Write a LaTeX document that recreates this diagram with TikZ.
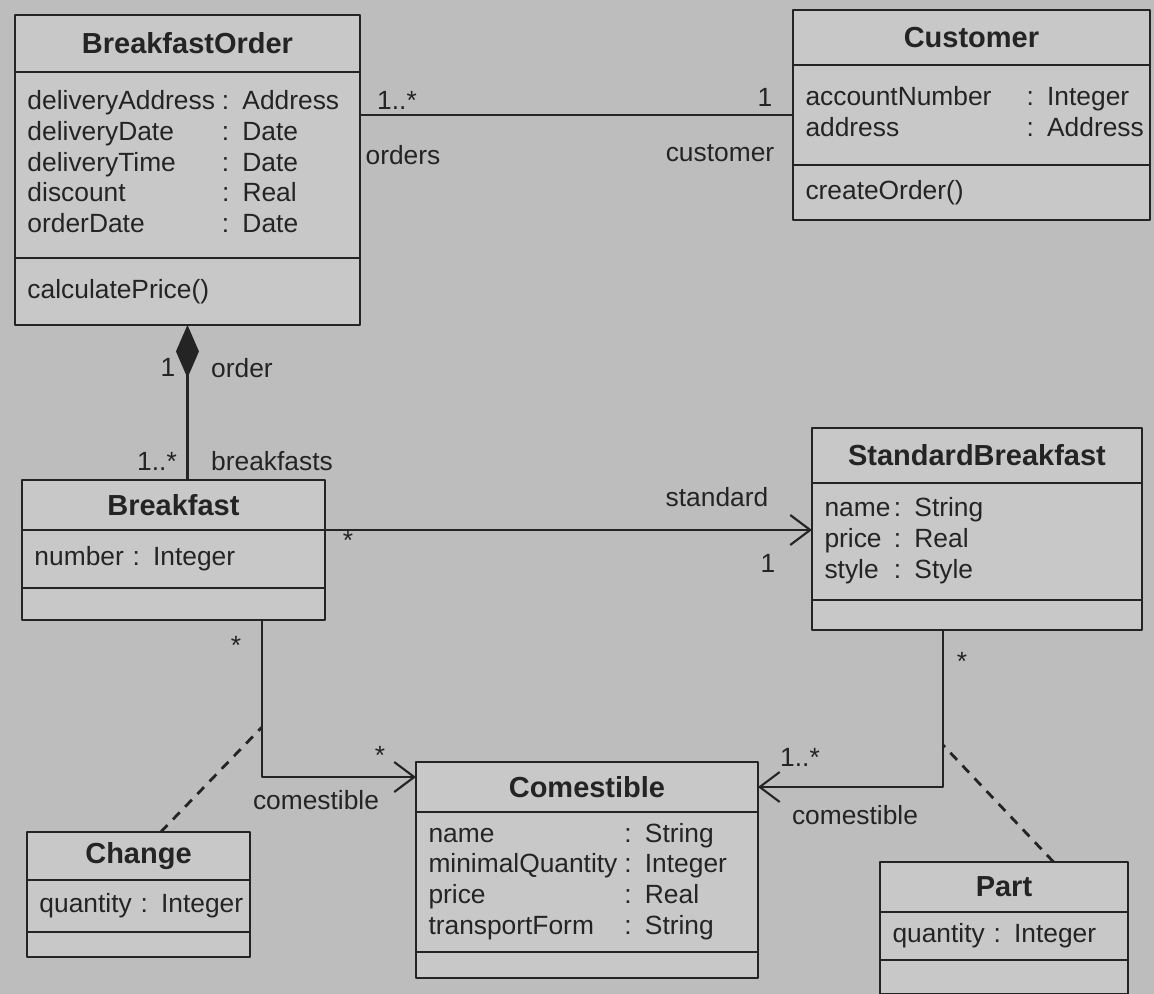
\documentclass[tikz,border=0pt]{standalone}
\usepackage{fontspec}
\setmainfont{Liberation Sans}
\usetikzlibrary{positioning,arrows.meta,calc}
\definecolor{paper}{HTML}{BDBDBD}
\definecolor{card}{HTML}{C8C8C8}
\definecolor{ink}{HTML}{242424}
\newcommand{\attfont}{\fontsize{15}{17.5}\selectfont}
\newcommand{\clsfont}{\fontsize{16.5}{19}\selectfont\bfseries}
\newcommand{\attrs}[2][4pt]{\begin{tabular}{@{}l@{\hspace{#1}}l@{}}#2\end{tabular}}

\begin{document}
\begin{tikzpicture}[x=0.02cm, y=-0.02cm, node distance=0pt, line join=round,
  every node/.style={text=ink},
  box/.style={draw=ink, fill=card, line width=1.3pt, inner sep=0pt, outer sep=0pt},
  head/.style={box, font=\clsfont, minimum width=#1},
  body/.style={box, font=\attfont, align=left, text width=#1, inner xsep=0.25cm},
  tag/.style={font=\attfont, inner sep=1pt},
  assoc/.style={draw=ink, line width=1.2pt},
  link/.style={draw=ink, line width=1.6pt, dash pattern=on 5.5pt off 4.5pt},
  >={Straight Barb[length=4mm,width=6mm]}]
\useasboundingbox (0,0) rectangle (1154,994);
\fill[paper] (0,0) rectangle (1154,994);

% classes
\node (bo) [head=6.9cm, minimum height=1.14cm, anchor=north west] at (15,15) {BreakfastOrder};
\node (bo-att) [body=6.4cm, minimum height=3.72cm, below=of bo] {\attrs{deliveryAddress & : Address\\ deliveryDate & : Date\\ deliveryTime & : Date\\ discount & : Real\\ orderDate & : Date}};
\node (bo-ops) [body=6.4cm, minimum height=1.34cm, below=of bo-att] {calculatePrice()};

\node (cu) [head=7.14cm, minimum height=1.1cm, anchor=north west] at (793,10) {Customer};
\node (cu-att) [body=6.64cm, minimum height=2.0cm, below=of cu] {\attrs[20pt]{accountNumber & : Integer\\ address & : Address}};
\node (cu-ops) [body=6.64cm, minimum height=1.1cm, below=of cu-att] {createOrder()};

\node (bf) [head=6.06cm, minimum height=1.0cm, anchor=north west] at (22,480) {Breakfast};
\node (bf-att) [body=5.56cm, minimum height=1.16cm, below=of bf] {number : Integer};
\node (bf-ops) [body=5.56cm, minimum height=0.64cm, below=of bf-att] {};

\node (sb) [head=6.6cm, minimum height=1.1cm, anchor=north west] at (812,428) {StandardBreakfast};
\node (sb-att) [body=6.1cm, minimum height=2.34cm, below=of sb] {\attrs[2pt]{name & : String\\ price & : Real\\ style & : Style}};
\node (sb-ops) [body=6.1cm, minimum height=0.6cm, below=of sb-att] {};

\node (com) [head=6.84cm, minimum height=1.0cm, anchor=north west] at (416,762) {Comestible};
\node (com-att) [body=6.34cm, minimum height=2.8cm, below=of com] {\attrs{name & : String\\ minimalQuantity & : Integer\\ price & : Real\\ transportForm & : String}};
\node (com-ops) [body=6.34cm, minimum height=0.52cm, below=of com-att] {};

\node (chg) [head=4.46cm, minimum height=0.96cm, anchor=north west] at (27,832) {Change};
\node (chg-att) [body=3.96cm, minimum height=1.04cm, below=of chg] {\mbox{quantity : Integer}};
\node (chg-ops) [body=3.96cm, minimum height=0.5cm, below=of chg-att] {};

\node (part) [head=4.96cm, minimum height=1.0cm, anchor=north west] at (880,862) {Part};
\node (part-att) [body=4.46cm, minimum height=0.96cm, below=of part] {quantity : Integer};
\node (part-ops) [body=4.46cm, minimum height=0.68cm, below=of part-att] {};

% associations
\coordinate (bfc) at (262,727);
\coordinate (sbc) at (943,745);
\draw[assoc] (bo-att.east |- cu-att.west) -- (cu-att.west);
\draw[assoc, {Diamond[length=10.6mm,width=4.6mm]}-] (bo-ops.south) -- (bo-ops.south |- bf.north);
\draw[assoc, ->] (bf-att.north east) -- (bf-att.north east -| sb-att.west);
\draw[assoc, ->] (bf-ops.south -| bfc) |- ($(com.north west)!.3!(com.south west)$);
\draw[assoc, ->] (sb-ops.south -| sbc) |- (com.east);
\draw[link] ($(chg.north)!.2!(chg.north east)$) -- (bfc);
\draw[link] ($(part.north)!.4!(part.north east)$) -- (sbc);

% role names and multiplicities
\foreach \n/\x/\y/\t in {m1/397/100/1..*, r1/403/155/orders, m2/765/97/1, r2/720/153/customer,
  m3/168/367/1, r3/242/368/order, m4/157/461/1..*, r4/272/461/breakfasts,
  m5/348/540/*, r5/717/497/standard, m6/768/563/1,
  m7/236/645/*, m8/380/755/*, r6/316/800/comestible,
  m9/962/661/*, m10/800/757/1..*, r7/855/815/comestible}
  \node[tag] (\n) at (\x,\y) {\t};
\end{tikzpicture}
\end{document}
